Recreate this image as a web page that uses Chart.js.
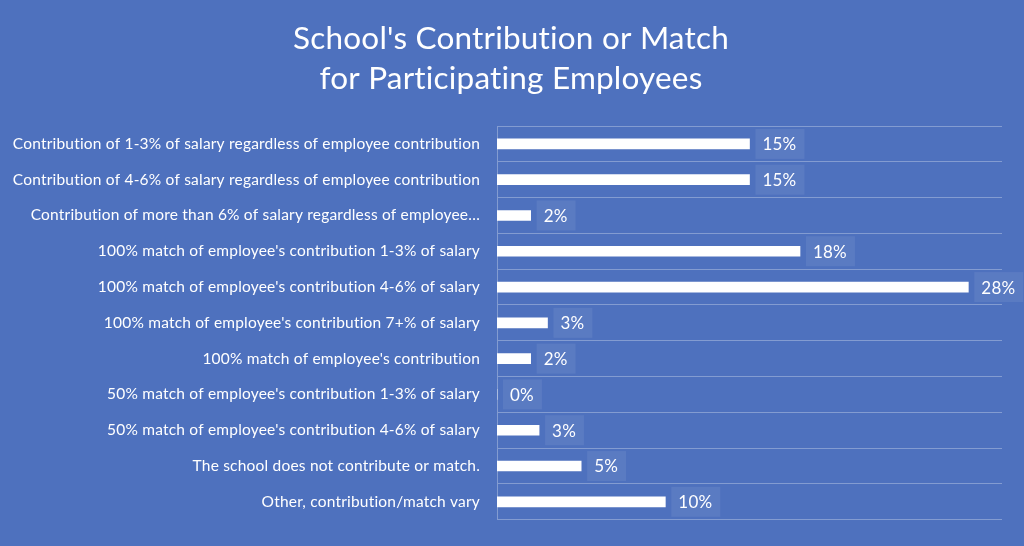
<!DOCTYPE html>
<html>
<head>
<meta charset="utf-8">
<script src="https://cdn.jsdelivr.net/npm/chart.js@4"></script>
<style>
  html, body { margin: 0; padding: 0; background: #4e71be; }
  #wrap { width: 1024px; height: 546px; }
</style>
</head>
<body>
<div id="wrap"><canvas id="bar-chart"></canvas></div>
<script>
var categories = [
    "Contribution of 1-3% of salary regardless of employee contribution",
    "Contribution of 4-6% of salary regardless of employee contribution",
    "Contribution of more than 6% of salary regardless of employee\u2026",
    "100% match of employee's contribution 1-3% of salary",
    "100% match of employee's contribution 4-6% of salary",
    "100% match of employee's contribution 7+% of salary",
    "100% match of employee's contribution",
    "50% match of employee's contribution 1-3% of salary",
    "50% match of employee's contribution 4-6% of salary",
    "The school does not contribute or match.",
    "Other, contribution/match vary"
];
var percents = [15, 15, 2, 18, 28, 3, 2, 0, 2.5, 5, 10];
var titleLines = ["School's Contribution or Match", "for Participating Employees"];

var lineColor = 'rgba(255,255,255,0.3)';

// a little letter spacing keeps Lato from joining "ti" into a ligature,
// and the title is nudged to sit centred on the page like the original
var tweaks = {
    id: 'tweaks',
    afterLayout: function (chart) {
        var t = chart.titleBlock;
        if (t) { t.left += 10; t.right += 10; }
    },
    beforeDraw: function (chart) {
        chart.ctx.letterSpacing = '0.2px';
    }
};

// draws the "15%" boxes to the right of each bar
var valueLabels = {
    id: 'valueLabels',
    afterDatasetsDraw: function (chart) {
        var ctx = chart.ctx;
        var meta = chart.getDatasetMeta(0);
        ctx.save();
        ctx.font = '17px Lato';
        ctx.textBaseline = 'middle';
        meta.data.forEach(function (bar, i) {
            var txt = Math.round(percents[i]) + '%';
            var w = ctx.measureText(txt).width;
            var bx = bar.x + 6;
            ctx.fillStyle = 'rgba(255,255,255,0.07)';
            ctx.fillRect(bx, bar.y - 15, w + 15, 30);
            ctx.fillStyle = '#ffffff';
            ctx.fillText(txt, bx + 7, bar.y + 1);
        });
        ctx.restore();
    }
};

new Chart(document.getElementById("bar-chart"), {
    type: 'bar',
    data: {
        labels: categories,
        datasets: [
            {
                label: "Share of schools",
                backgroundColor: "#ffffff",
                data: percents,
                barThickness: 10
            }
        ]
    },
    options: {
        indexAxis: 'y',
        responsive: true,
        maintainAspectRatio: false,
        animation: false,
        layout: {
            padding: { left: 0, right: 22, top: 0, bottom: 19 }
        },
        plugins: {
            legend: { display: false },
            tooltip: { enabled: false },
            title: {
                display: true,
                text: titleLines,
                color: '#ffffff',
                font: { family: 'Lato', size: 31.5, weight: 'normal', lineHeight: 1.27 },
                padding: { top: 19, bottom: 27 }
            }
        },
        scales: {
            x: {
                display: false,
                min: 0,
                max: 30
            },
            y: {
                afterFit: function (scale) { scale.width = 497; },
                grid: { color: lineColor, drawTicks: false, offset: true },
                border: { display: true, color: lineColor },
                ticks: {
                    color: '#ffffff',
                    padding: 17,
                    autoSkip: false,
                    font: { family: 'Lato', size: 15.5 }
                }
            }
        }
    },
    plugins: [tweaks, valueLabels]
});
</script>
</body>
</html>
